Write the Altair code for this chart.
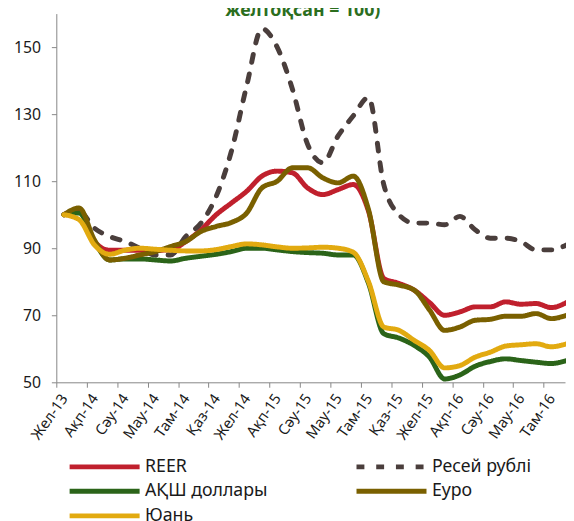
import altair as alt
import pandas as pd

# month index 0 = Dec-2013 ... 33 = Sep-2016
tick_labels = ["Жел-13", "Ақп-14", "Сәу-14", "Мау-14", "Там-14", "Қаз-14", "Жел-14",
               "Ақп-15", "Сәу-15", "Мау-15", "Там-15", "Қаз-15", "Жел-15", "Ақп-16",
               "Сәу-16", "Мау-16", "Там-16"]

series_names = ["REER", "Ресей рублі", "АҚШ доллары", "Еуро", "Юань"]
# legend is filled column by column
legend_order = ["REER", "АҚШ доллары", "Юань", "Ресей рублі", "Еуро"]

reer = [100, 101.5, 92, 89.4, 89.4, 89.4, 89.4, 89.5, 92, 95.5, 100, 103.5, 107, 111.5,
        113, 112.5, 108, 106, 107.5, 109, 101, 81, 79.5, 77.5, 73.8, 70, 71, 72.5, 72.5,
        74, 73.3, 73.5, 72.3, 73.8]
ruble = [100, 101, 96, 93.5, 92, 90, 88, 88, 93.5, 97.5, 105.5, 119, 138.5, 155.5, 150,
         137.5, 121, 115.5, 123.5, 129.5, 135, 109, 100, 97.5, 97.5, 97, 99.5, 95.5, 93,
         93, 92, 89.5, 89.5, 91]
usd = [100, 100.5, 92, 86.5, 86.8, 86.8, 86.5, 86.2, 87, 87.6, 88.2, 89, 90, 90, 89.5,
       89, 88.7, 88.5, 88, 88, 79.5, 64.5, 63.2, 61, 57.5, 51, 52.2, 54.8, 56.2, 57,
       56.5, 56, 55.6, 56.5]
euro = [100, 102, 92.5, 86.5, 87, 88, 89, 90.5, 92, 95, 96.5, 97.7, 100.5, 108, 110,
        114, 114, 111, 109.5, 111.5, 101.5, 80, 79, 77.5, 71.6, 65.5, 66.5, 68.5, 68.8,
        69.7, 69.7, 70.5, 69, 70]
yuan = [100, 98.5, 91, 88.2, 89.4, 90, 89.7, 89.4, 89.2, 89.2, 89.6, 90.5, 91.3, 91,
        90.4, 90, 90.1, 90.3, 90, 88.8, 80, 66.5, 65.5, 62.5, 59.5, 54.3, 55, 57.5, 59,
        60.8, 61.2, 61.5, 60.6, 61.5]

color_map = {"REER": "#c0202d", "Ресей рублі": "#4a3e3c", "АҚШ доллары": "#2b6419",
             "Еуро": "#7a6000", "Юань": "#e2aa10"}
dash_map = {"REER": [1, 0], "Ресей рублі": [8, 12], "АҚШ доллары": [1, 0],
            "Еуро": [1, 0], "Юань": [1, 0]}

rows = []
for name, vals in zip(series_names, [reer, ruble, usd, euro, yuan]):
    for i, v in enumerate(vals):
        rows.append({"t": i + 0.5, "series": name, "value": v})
df = pd.DataFrame(rows)

label_expr = "[" + ",".join("'" + s + "'" for s in tick_labels) + "][round(datum.value/2)]"

legend = alt.Legend(
    title=None, orient="none", legendX=11, legendY=447, columns=2,
    symbolType="M-1,0H6.1", symbolSize=400, symbolStrokeWidth=5,
    labelOffset=54, columnPadding=79, rowPadding=2,
    labelFont="Noto Sans", labelFontSize=18, labelColor="#1a1a1a", labelLimit=300,
)

chart = alt.Chart(df).mark_line(
    strokeWidth=5, interpolate="monotone", strokeCap="round", strokeJoin="round"
).encode(
    x=alt.X("t:Q",
            scale=alt.Scale(domain=[0, 33.4], nice=False, zero=False),
            axis=alt.Axis(values=list(range(0, 34, 2)), labelExpr=label_expr,
                          labelAngle=-55, labelAlign="right", labelBaseline="middle",
                          labelOffset=7.7, labelPadding=8, labelFlush=False,
                          labelOverlap=False, tickSize=5, grid=False, title=None,
                          labelFont="Noto Sans", labelFontSize=15, labelColor="#1a1a1a")),
    y=alt.Y("value:Q",
            scale=alt.Scale(domain=[50, 160], nice=False, zero=False),
            axis=alt.Axis(values=[50, 70, 90, 110, 130, 150], grid=False, title=None,
                          tickSize=5, labelPadding=11, labelFont="Noto Sans",
                          labelFontSize=16, labelColor="#1a1a1a")),
    color=alt.Color("series:N",
                    scale=alt.Scale(domain=legend_order,
                                    range=[color_map[s] for s in legend_order]),
                    legend=legend),
    strokeDash=alt.StrokeDash("series:N",
                              scale=alt.Scale(domain=legend_order,
                                              range=[dash_map[s] for s in legend_order]),
                              legend=legend),
).properties(
    width=516, height=374,
    title=alt.TitleParams(
        text=["Теңгенің нақты тиімді айырбас бағамы индекстері (2013 жылғы",
              "желтоқсан = 100)"],
        color="#2b6e1e", font="Noto Sans", fontSize=18, fontWeight="bold",
        anchor="middle", offset=-6, dx=-8),
    autosize=alt.AutoSizeParams(type="none"),
    padding={"left": 49, "top": 2, "right": 1, "bottom": 137},
).configure_view(stroke=None).configure_axis(
    domainColor="#868686", tickColor="#868686", domainWidth=1
)

chart.save("out.html", embed_options={"renderer": "svg", "actions": False})
